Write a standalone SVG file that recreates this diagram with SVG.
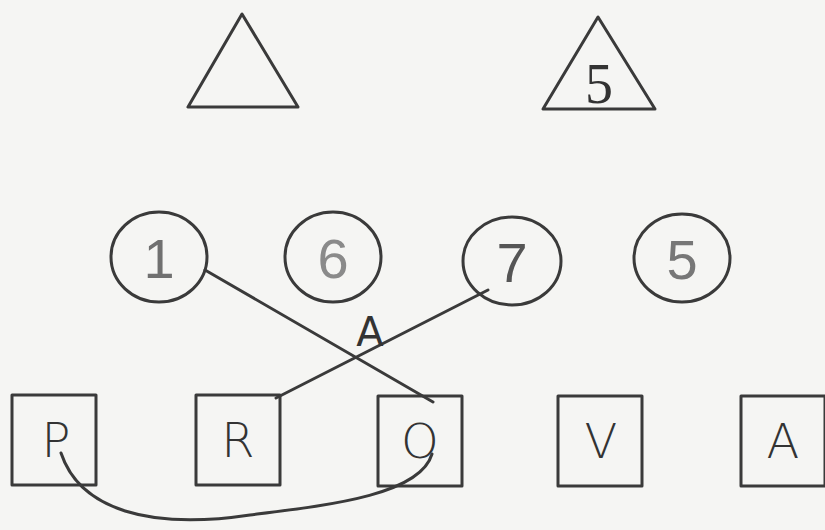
<svg xmlns="http://www.w3.org/2000/svg" width="825" height="530" viewBox="0 0 825 530">
<style>
.sh{fill:none;stroke:#3a3a3a;stroke-width:3;stroke-linejoin:round}
.cn{fill:none;stroke:#3a3a3a;stroke-width:3;stroke-linecap:round}
.dg{font-family:"Liberation Sans",Arial,sans-serif;font-size:56px;text-anchor:middle;font-weight:300}
.lt{font-family:"DejaVu Sans",sans-serif;font-size:48px;text-anchor:middle;fill:#333;font-weight:300}
</style>
<rect width="825" height="530" fill="#f5f5f3"/>
<g id="tri1"><polygon class="sh" points="242,14 188,107 298,107"/></g>
<g id="tri2"><polygon class="sh" points="598,17 543,109 655,109"/><text x="599" y="103" font-family="Liberation Serif,serif" font-size="56" text-anchor="middle" fill="#333">5</text></g>
<g id="c1"><ellipse class="sh" cx="159" cy="257" rx="48" ry="45"/><text class="dg" x="159" y="278" fill="#707070">1</text></g>
<g id="c6"><ellipse class="sh" cx="333" cy="257" rx="48" ry="45"/><text class="dg" x="333" y="278" fill="#8a8a8a">6</text></g>
<g id="c7"><ellipse class="sh" cx="512" cy="261" rx="49" ry="44"/><text class="dg" x="512" y="282" fill="#555">7</text></g>
<g id="c5"><ellipse class="sh" cx="682" cy="258" rx="48" ry="44"/><text class="dg" x="682" y="279" fill="#777">5</text></g>
<g id="bP"><rect class="sh" x="12" y="395" width="84" height="90"/><text class="lt" x="56" y="457">P</text></g>
<g id="bR"><rect class="sh" x="196" y="395" width="84" height="90"/><text class="lt" x="238" y="457">R</text></g>
<g id="bO"><rect class="sh" x="378" y="396" width="84" height="90"/><text class="lt" x="420" y="458">O</text></g>
<g id="bV"><rect class="sh" x="558" y="396" width="84" height="90"/><text class="lt" x="601" y="458">V</text></g>
<g id="bA"><rect class="sh" x="741" y="396" width="84" height="90"/><text class="lt" x="783" y="458">A</text></g>
<g id="connectors">
<path class="cn" d="M205,270 L433,402"/>
<path class="cn" d="M488,290 Q380,345 276,398"/>
<path class="cn" d="M61,453 C80,510 150,530 250,515 C330,505 420,495 432,454"/>
</g>
<text x="370" y="346" font-family="DejaVu Sans,sans-serif" font-size="40" text-anchor="middle" fill="#333">A</text>
</svg>
